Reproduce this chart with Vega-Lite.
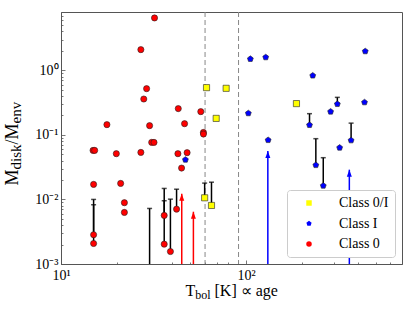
{
  "$schema": "https://vega.github.io/schema/vega-lite/v6.json",
  "width": 341,
  "height": 252,
  "autosize": {"type": "none"},
  "padding": {"left": 61, "top": 12, "right": 13, "bottom": 47},
  "background": "white",
  "config": {
    "view": {"stroke": "#555555", "strokeWidth": 1},
    "font": "Liberation Serif",
    "axis": {"labelFont": "Liberation Serif", "titleFont": "Liberation Serif", "labelColor": "black", "titleColor": "black", "titleFontWeight": "normal", "grid": false, "domainColor": "#555555", "tickColor": "#555555", "labelFlush": false}
  },
  "datasets": {
    "points": [
      {"x": 32.0, "y": 6.47, "cls": "Class 0"},
      {"x": 27.0, "y": 2.09, "cls": "Class 0"},
      {"x": 29.0, "y": 0.52, "cls": "Class 0"},
      {"x": 28.0, "y": 0.359, "cls": "Class 0"},
      {"x": 43.0, "y": 0.255, "cls": "Class 0"},
      {"x": 17.7, "y": 0.144, "cls": "Class 0"},
      {"x": 30.1, "y": 0.139, "cls": "Class 0"},
      {"x": 46.5, "y": 0.149, "cls": "Class 0"},
      {"x": 30.9, "y": 0.0765, "cls": "Class 0"},
      {"x": 31.8, "y": 0.0765, "cls": "Class 0"},
      {"x": 14.9, "y": 0.0575, "cls": "Class 0"},
      {"x": 15.2, "y": 0.0575, "cls": "Class 0"},
      {"x": 19.9, "y": 0.0511, "cls": "Class 0"},
      {"x": 27.0, "y": 0.0535, "cls": "Class 0"},
      {"x": 42.8, "y": 0.0511, "cls": "Class 0"},
      {"x": 48.0, "y": 0.053, "cls": "Class 0"},
      {"x": 44.8, "y": 0.0306, "cls": "Class 0"},
      {"x": 15.0, "y": 0.0171, "cls": "Class 0"},
      {"x": 21.0, "y": 0.0177, "cls": "Class 0"},
      {"x": 22.0, "y": 0.0089, "cls": "Class 0"},
      {"x": 22.0, "y": 0.00629, "cls": "Class 0"},
      {"x": 15.0, "y": 0.00284, "cls": "Class 0"},
      {"x": 15.0, "y": 0.00208, "cls": "Class 0"},
      {"x": 36.1, "y": 0.00565, "cls": "Class 0"},
      {"x": 36.1, "y": 0.00203, "cls": "Class 0"},
      {"x": 39.0, "y": 0.00156, "cls": "Class 0"},
      {"x": 42.1, "y": 0.00707, "cls": "Class 0"},
      {"x": 58.8, "y": 0.109, "cls": "Class 0"},
      {"x": 58.8, "y": 0.103, "cls": "Class 0"},
      {"x": 56.9, "y": 0.229, "cls": "Class 0"},
      {"x": 61.1, "y": 0.539, "cls": "Class 0/I"},
      {"x": 78.0, "y": 0.526, "cls": "Class 0/I"},
      {"x": 68.9, "y": 0.180, "cls": "Class 0/I"},
      {"x": 187, "y": 0.305, "cls": "Class 0/I"},
      {"x": 59.7, "y": 0.0106, "cls": "Class 0/I"},
      {"x": 65.0, "y": 0.00807, "cls": "Class 0/I"},
      {"x": 105.4, "y": 1.50, "cls": "Class I"},
      {"x": 127.6, "y": 1.59, "cls": "Class I"},
      {"x": 102.8, "y": 0.216, "cls": "Class I"},
      {"x": 131.5, "y": 0.083, "cls": "Class I"},
      {"x": 47.0, "y": 0.0412, "cls": "Class I"},
      {"x": 440, "y": 1.97, "cls": "Class I"},
      {"x": 229, "y": 0.828, "cls": "Class I"},
      {"x": 311, "y": 0.30, "cls": "Class I"},
      {"x": 436, "y": 0.319, "cls": "Class I"},
      {"x": 286, "y": 0.229, "cls": "Class I"},
      {"x": 220, "y": 0.142, "cls": "Class I"},
      {"x": 369, "y": 0.0822, "cls": "Class I"},
      {"x": 320, "y": 0.0633, "cls": "Class I"},
      {"x": 238, "y": 0.034, "cls": "Class I"},
      {"x": 261, "y": 0.0163, "cls": "Class I"}
    ],
    "errors": [
      {"x": 15.0, "lo": 0.00284, "hi": 0.0100},
      {"x": 15.0, "lo": 0.00208, "hi": 0.00828},
      {"x": 36.1, "lo": 0.00565, "hi": 0.0148},
      {"x": 36.1, "lo": 0.00203, "hi": 0.00955},
      {"x": 39.0, "lo": 0.00156, "hi": 0.0101},
      {"x": 42.1, "lo": 0.00707, "hi": 0.0144},
      {"x": 30.1, "lo": 0.001, "hi": 0.00725},
      {"x": 59.7, "lo": 0.0106, "hi": 0.0179},
      {"x": 65.0, "lo": 0.00807, "hi": 0.0185},
      {"x": 311, "lo": 0.30, "hi": 0.381},
      {"x": 220, "lo": 0.142, "hi": 0.213},
      {"x": 369, "lo": 0.0822, "hi": 0.152},
      {"x": 238, "lo": 0.034, "hi": 0.0873},
      {"x": 261, "lo": 0.0163, "hi": 0.0443}
    ],
    "arrows": [
      {"x": 44.9, "lo": 0.001, "top": 0.01225, "cls": "Class 0"},
      {"x": 51.9, "lo": 0.001, "top": 0.00645, "cls": "Class 0"},
      {"x": 131, "lo": 0.001, "top": 0.0561, "cls": "Class I"},
      {"x": 361, "lo": 0.001, "top": 0.0289, "cls": "Class I"}
    ],
    "vlines": [{"v": 60}, {"v": 91}]
  },
  "resolve": {"axis": {"x": "independent", "y": "independent"}, "legend": {"color": "independent", "shape": "independent"}},
  "layer": [
    {
      "data": {"name": "vlines"},
      "mark": {"type": "rule", "color": "#888888", "strokeWidth": 1, "strokeDash": [5, 3]},
      "encoding": {
        "x": {"field": "v", "type": "quantitative",
          "scale": {"type": "log", "domain": [10, 695], "nice": false},
          "axis": {"orient": "bottom", "values": [20, 30, 40, 50, 60, 70, 80, 90, 200, 300, 400, 500, 600], "labels": false, "domain": false, "tickSize": -2, "tickWidth": 0.8,
            "title": "bol", "titleX": 133.8, "titleY": 34, "titleAlign": "left", "titleBaseline": "alphabetic", "titleFontSize": 12, "titleAngle": 0}}
      }
    },
    {
      "data": {"name": "errors"},
      "mark": {"type": "rule", "color": "black", "strokeWidth": 1.5},
      "encoding": {
        "x": {"field": "x", "type": "quantitative",
          "axis": {"orient": "bottom", "values": [10, 100], "tickSize": -4, "tickWidth": 0.8, "labelPadding": 8, "labelFontSize": 14,
            "labelExpr": "datum.value < 50 ? '10¹' : '10²'",
            "title": "T", "titleX": 124, "titleY": 31, "titleAlign": "left", "titleBaseline": "alphabetic", "titleFontSize": 16, "titleAngle": 0}},
        "y": {"field": "lo", "type": "quantitative",
          "scale": {"type": "log", "domain": [0.001, 8], "nice": false},
          "axis": {"orient": "left", "values": [0.001, 0.01, 0.1, 1], "tickSize": -4, "tickWidth": 0.8, "labelPadding": 7, "labelFontSize": 14,
            "labelExpr": "datum.value > 0.5 ? '10⁰' : datum.value > 0.05 ? '10⁻¹' : datum.value > 0.005 ? '10⁻²' : '10⁻³'",
            "title": "M", "titleX": -44, "titleY": 173, "titleAlign": "left", "titleBaseline": "alphabetic", "titleFontSize": 18, "titleAngle": -90}},
        "y2": {"field": "hi"}
      }
    },
    {
      "data": {"name": "errors"},
      "mark": {"type": "tick", "orient": "horizontal", "color": "black", "size": 5, "thickness": 1.5},
      "encoding": {
        "x": {"field": "x", "type": "quantitative",
          "axis": {"orient": "bottom", "ticks": false, "labels": false, "domain": false,
            "title": "[K] ∝ age", "titleX": 153, "titleY": 31, "titleAlign": "left", "titleBaseline": "alphabetic", "titleFontSize": 16, "titleAngle": 0}},
        "y": {"field": "hi", "type": "quantitative",
          "axis": {"orient": "left", "values": [0.002, 0.003, 0.004, 0.005, 0.006, 0.007, 0.008, 0.009, 0.02, 0.03, 0.04, 0.05, 0.06, 0.07, 0.08, 0.09, 0.2, 0.3, 0.4, 0.5, 0.6, 0.7, 0.8, 0.9, 2, 3, 4, 5, 6, 7],
            "labels": false, "domain": false, "tickSize": -2, "tickWidth": 0.8,
            "title": "disk", "titleX": -40.5, "titleY": 157, "titleAlign": "left", "titleBaseline": "alphabetic", "titleFontSize": 15, "titleAngle": -90}}
      }
    },
    {
      "data": {"name": "arrows"},
      "mark": {"type": "rule", "strokeWidth": 1.5},
      "encoding": {
        "x": {"field": "x", "type": "quantitative", "axis": null},
        "y": {"field": "lo", "type": "quantitative",
          "axis": {"orient": "left", "ticks": false, "labels": false, "domain": false,
            "title": "/M", "titleX": -44, "titleY": 132, "titleAlign": "left", "titleBaseline": "alphabetic", "titleFontSize": 18, "titleAngle": -90}},
        "y2": {"field": "top"},
        "color": {"field": "cls", "type": "nominal",
          "scale": {"domain": ["Class 0/I", "Class I", "Class 0"], "range": ["#ffff00", "#0000ff", "#ff0000"]}, "legend": null}
      }
    },
    {
      "data": {"name": "arrows"},
      "mark": {"type": "point", "filled": true, "opacity": 1, "size": 25, "shape": "M0,0L-1,2.8L1,2.8Z"},
      "encoding": {
        "x": {"field": "x", "type": "quantitative", "axis": null},
        "y": {"field": "top", "type": "quantitative",
          "axis": {"orient": "left", "ticks": false, "labels": false, "domain": false,
            "title": "env", "titleX": -40.5, "titleY": 111, "titleAlign": "left", "titleBaseline": "alphabetic", "titleFontSize": 15, "titleAngle": -90}},
        "color": {"field": "cls", "type": "nominal", "legend": null}
      }
    },
    {
      "data": {"name": "points"},
      "mark": {"type": "point", "filled": true, "opacity": 1, "stroke": "#222222", "strokeWidth": 0.6, "size": 38},
      "encoding": {
        "x": {"field": "x", "type": "quantitative", "axis": null},
        "y": {"field": "y", "type": "quantitative", "axis": null},
        "color": {"field": "cls", "type": "nominal",
          "legend": {"title": null, "orient": "bottom-right", "offset": 7, "padding": 6, "rowPadding": 6.5,
            "labelFont": "Liberation Serif", "labelFontSize": 14, "labelColor": "black", "symbolSize": 30,
            "symbolOffset": 9, "labelOffset": 23, "fillColor": "white", "strokeColor": "#cccccc", "cornerRadius": 3,
            "symbolStrokeWidth": 0.6, "symbolStrokeColor": "#222222", "symbolOpacity": 1}},
        "shape": {"field": "cls", "type": "nominal",
          "scale": {"domain": ["Class 0/I", "Class I", "Class 0"], "range": ["square", "M0,-1L0.951,-0.309L0.588,0.809L-0.588,0.809L-0.951,-0.309Z", "circle"]},
          "legend": {"title": null, "orient": "bottom-right", "offset": 7, "padding": 6, "rowPadding": 6.5,
            "labelFont": "Liberation Serif", "labelFontSize": 14, "labelColor": "black", "symbolSize": 30,
            "symbolOffset": 9, "labelOffset": 23, "fillColor": "white", "strokeColor": "#cccccc", "cornerRadius": 3,
            "symbolStrokeWidth": 0.6, "symbolStrokeColor": "#222222", "symbolOpacity": 1}}
      }
    }
  ]
}
